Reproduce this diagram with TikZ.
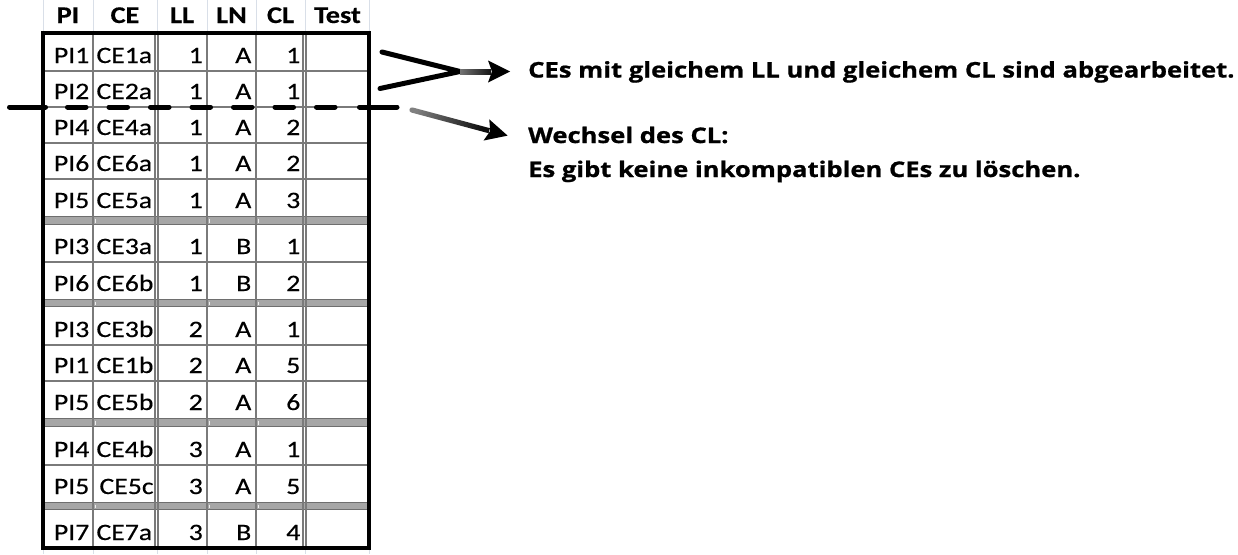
\documentclass[tikz,border=0pt]{standalone}
\usepackage{fontspec}
\newfontfamily\tabfont[FakeStretch=1.18, FakeBold=0.4]{Carlito}
\newfontfamily\notefont[FakeStretch=1.19, FakeBold=0.9]{Open Sans}
\definecolor{gridc}{HTML}{D9DFE8}
\definecolor{cellline}{HTML}{7A7A7A}
\definecolor{bandfill}{HTML}{A6A6A6}
\definecolor{bandedge}{HTML}{6E6E6E}
\tikzset{
  cell/.style={font=\tabfont\fontsize{23.5}{26}\selectfont, inner sep=0pt},
  headcell/.style={font=\tabfont\bfseries\fontsize{24}{26}\selectfont, inner sep=0pt, anchor=base},
  note/.style={font=\notefont\bfseries\fontsize{21.5}{26}\selectfont, inner sep=0pt, anchor=base west},
  thinrule/.style={draw=cellline, line width=1.3pt},
  gridrule/.style={draw=gridc, line width=1pt},
  outerrule/.style={draw=black, line width=3.5pt},
  dashpiece/.style={draw=black, line width=5pt, line cap=round},
  vline/.style={draw=black, line width=5pt, line cap=round},
}
\begin{document}
\begin{tikzpicture}[x=1pt,y=1pt]
\useasboundingbox (0,0) rectangle (1238,-554);
\fill[white] (0,0) rectangle (1238,-554);
% faint spreadsheet gridlines
\foreach \x in {43,93,157,207,256,305,369}{
  \draw[gridrule] (\x,0) -- (\x,-33);
  \draw[gridrule] (\x,-548) -- (\x,-554);
}
% header
\node[headcell] (hPI) at (68,-23) {PI};
\node[headcell] (hCE) at (125,-23) {CE};
\node[headcell] (hLL) at (182,-23) {LL};
\node[headcell] (hLN) at (231.5,-23) {LN};
\node[headcell] (hCL) at (280.5,-23) {CL};
\node[headcell] (hT) at (337.5,-23) {Test};
% bands
\foreach \a/\b in {216/225,299/307,418/427,502/510}{
  \fill[bandfill] (43,-\a) rectangle (369,-\b);
  \draw[bandedge, line width=1.2pt] (43,-\a-0.6) -- (369,-\a-0.6);
  \draw[bandedge, line width=1.2pt] (43,-\b+0.6) -- (369,-\b+0.6);
  \foreach \x in {93,207,256}{
    \draw[white!85!gray, line width=0.9pt] (\x+2,-\a-2.5) -- (\x+2,-\b+2.5);
  }
}
% row rules
\foreach \y in {71,107,143,179,262,345,381,465}{
  \draw[thinrule] (43,-\y) -- (369,-\y);
}
% column rules
\foreach \x in {93,207,256,155,158,303,306}{
  \draw[thinrule] (\x,-33) -- (\x,-548);
}
% outer border
\draw[outerrule] (43,-33) rectangle (369,-548);
% cells
\foreach \bt/\pi/\ce/\ll/\ln/\cl [count=\i] in {
  71/PI1/CE1a/1/A/1, 107/PI2/CE2a/1/A/1, 143/PI4/CE4a/1/A/2,
  179/PI6/CE6a/1/A/2, 216/PI5/CE5a/1/A/3, 262/PI3/CE3a/1/B/1,
  299/PI6/CE6b/1/B/2, 345/PI3/CE3b/2/A/1, 381/PI1/CE1b/2/A/5,
  418/PI5/CE5b/2/A/6, 465/PI4/CE4b/3/A/1, 502/PI5/{\hspace{3pt}CE5c}/3/A/5,
  548/PI7/CE7a/3/B/4}{
  \node[cell, anchor=base east] (pi\i) at (89.5,-\bt+8) {\pi};
  \node[cell, anchor=base west] (ce\i) at (96.3,-\bt+8) {\ce};
  \node[cell, anchor=base east] (ll\i) at (203,-\bt+8) {\ll};
  \node[cell, anchor=base east] (ln\i) at (251.5,-\bt+8) {\ln};
  \node[cell, anchor=base east] (cl\i) at (300.5,-\bt+8) {\cl};
}
% dashed divider
\coordinate (dA) at (9.5,-107);
\coordinate (dB) at (45.5,-107);
\draw[dashpiece] (dA) -- (dB);
\foreach \s in {65,106.5,148,189.5,231,272.5,314}{
  \draw[dashpiece] (\s+2.5,-107) -- (\s+21,-107);
}
\coordinate (dC) at (359.5,-107);
\coordinate (dD) at (397,-107);
\draw[dashpiece] (dC) -- (dD);
% notes
\node[note] (t1) at (528,-77.5) {CEs mit gleichem LL und gleichem CL sind abgearbeitet.};
\node[note] (t2) at (528,-143) {Wechsel des CL:};
\node[note] (t3) at (528,-177) {Es gibt keine inkompatiblen CEs zu löschen.};
% ">" bracket and arrow 1
\coordinate (g1) at (382,-52);
\coordinate (g2) at (380,-88.5);
\coordinate (gv) at (460,-71.5);
\draw[vline] (g1) -- (gv) -- (g2);
\shade[left color=black!55, right color=black!92] (460,-69) rectangle (491,-74);
\fill[black] (510,-71.5) -- (488,-60.5) -- (492,-71.5) -- (488,-82.5) -- cycle;
% arrow 2
\coordinate (a2s) at (412,-110);
\begin{scope}[shift={(a2s)}, rotate=-15]
  \shade[top color=black!50, bottom color=black!95, shading angle=75]
    (0,-2.6) -- (80,-2.6) -- (80,2.6) -- (0,2.6) arc[start angle=90, end angle=270, radius=2.6] -- cycle;
  \fill[black] (99,0) -- (77,11) -- (81,0) -- (77,-11) -- cycle;
\end{scope}
\end{tikzpicture}
\end{document}
